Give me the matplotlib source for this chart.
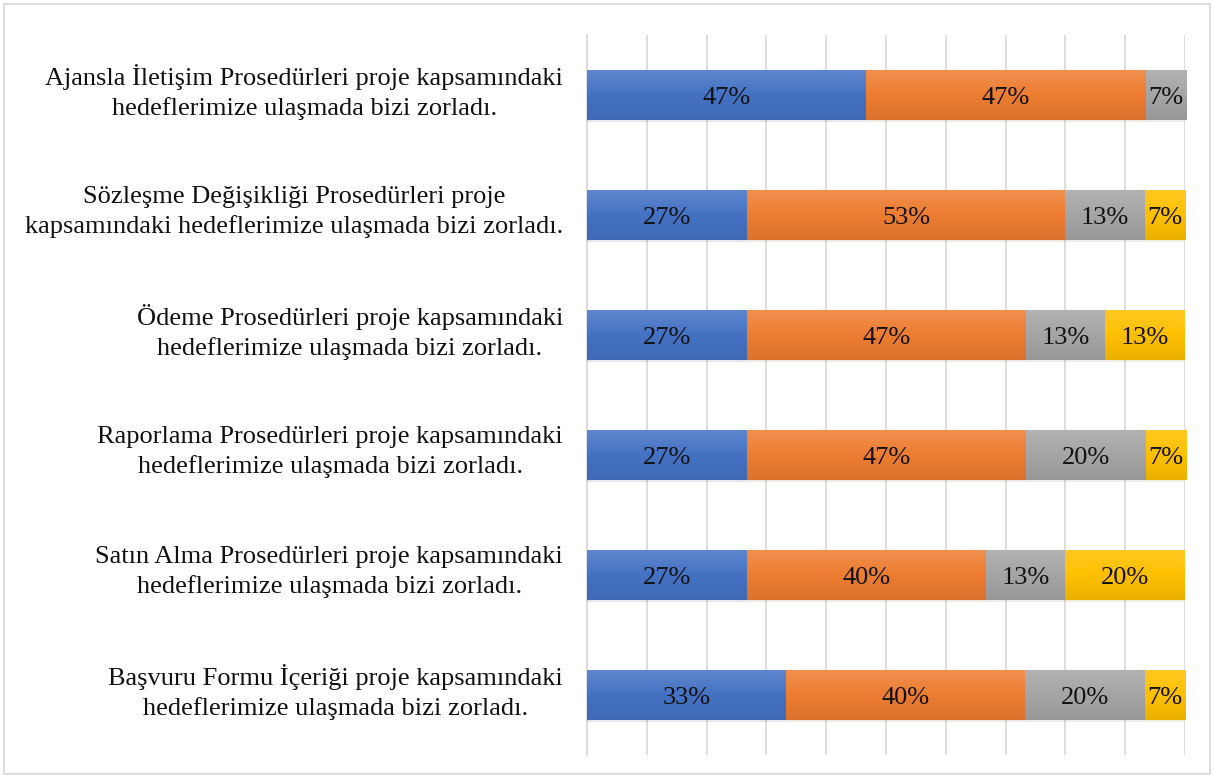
import matplotlib
matplotlib.use("Agg")
import matplotlib.pyplot as plt
import numpy as np
from matplotlib import patheffects as pe
from matplotlib.colors import LinearSegmentedColormap, to_rgb
from matplotlib.transforms import blended_transform_factory, ScaledTranslation

categories = [
    "Ajansla İletişim Prosedürleri proje kapsamındaki\nhedeflerimize ulaşmada bizi zorladı.",
    "Sözleşme Değişikliği Prosedürleri proje\nkapsamındaki hedeflerimize ulaşmada bizi zorladı.",
    "Ödeme Prosedürleri proje kapsamındaki\nhedeflerimize ulaşmada bizi zorladı.",
    "Raporlama Prosedürleri proje kapsamındaki\nhedeflerimize ulaşmada bizi zorladı.",
    "Satın Alma Prosedürleri proje kapsamındaki\nhedeflerimize ulaşmada bizi zorladı.",
    "Başvuru Formu İçeriği proje kapsamındaki\nhedeflerimize ulaşmada bizi zorladı.",
]
series1 = [46.7, 26.7, 26.7, 26.7, 26.7, 33.3]
series2 = [46.7, 53.3, 46.7, 46.7, 40.0, 40.0]
series3 = [6.7, 13.3, 13.3, 20.0, 13.3, 20.0]
series4 = [0.0, 6.7, 13.3, 6.7, 20.0, 6.7]

colors = ["#4472C4", "#ED7D31", "#A5A5A5", "#FFC000"]

plt.rcParams['font.family'] = ['Liberation Serif', 'DejaVu Serif']

fig = plt.figure(figsize=(12.14, 7.78), dpi=100)
ax = fig.add_axes([587 / 1214, 1 - 755 / 778, (1185 - 587) / 1214, 720 / 778])

# figure border
fig.patches.append(plt.Rectangle((4 / 1214, 4 / 778), 1206 / 1214, 770 / 778,
                                 transform=fig.transFigure, fill=False,
                                 edgecolor="#d9d9d9", linewidth=1.2))

y = np.arange(len(categories))
left = np.zeros(len(categories))
height = 0.42


def shade(c, f):
    r = np.array(to_rgb(c))
    if f > 0:
        return tuple(r + (1 - r) * f)
    return tuple(r * (1 + f))


for vals, col in zip([series1, series2, series3, series4], colors):
    vals = np.array(vals)
    bars = ax.barh(y, vals, left=left, height=height, color=col, zorder=3,
                   path_effects=[pe.SimplePatchShadow(offset=(0, -1.5), alpha=0.12, rho=0.6), pe.Normal()])
    cmap = LinearSegmentedColormap.from_list("g", [shade(col, 0.15), col, shade(col, -0.08)])
    for b, v in zip(bars, vals):
        if v <= 0:
            continue
        x0, y0 = b.get_x(), b.get_y()
        w, h = b.get_width(), b.get_height()
        grad = np.linspace(0, 1, 64).reshape(-1, 1)
        im = ax.imshow(grad, cmap=cmap, aspect="auto", extent=[x0, x0 + w, y0 + h, y0],
                       origin="upper", zorder=3.5, interpolation="bilinear")
        im.set_clip_path(b)
        ax.text(x0 + w / 2, b.get_y() + h / 2, f"{v:.0f}%", ha="center", va="center_baseline",
                fontsize=19, color="#111111", zorder=5)
    left = left + vals

ax.set_xlim(0, 100)
ax.set_ylim(len(categories) - 0.5, -0.5)
ax.set_xticks(np.arange(0, 101, 10))
ax.xaxis.set_ticklabels([])
ax.tick_params(axis="x", length=0)
ax.grid(axis="x", color="#d9d9d9", linewidth=1.2, zorder=0)
ax.set_yticks(y)
ax.set_yticklabels([])
ax.tick_params(axis="y", length=0)

trans = blended_transform_factory(ax.transAxes, ax.transData) + \
    ScaledTranslation(-24 / 100, 3 / 100, fig.dpi_scale_trans)
for yi, lab in zip(y, categories):
    ax.text(0, yi, lab, transform=trans, ha="right", va="center", fontsize=19,
            multialignment="center", color="#111111", linespacing=1.38, clip_on=False)

for s in ["top", "right", "bottom"]:
    ax.spines[s].set_visible(False)
ax.spines["left"].set_color("#d9d9d9")
ax.spines["left"].set_linewidth(1.2)

fig.savefig("out.png", dpi=100)
